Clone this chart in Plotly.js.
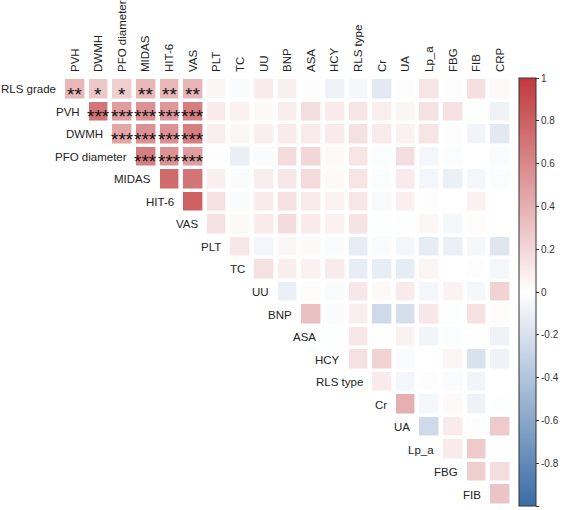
<!DOCTYPE html>
<html>
<head>
<meta charset="utf-8">
<script src="https://cdn.plot.ly/plotly-3.0.1.min.js"></script>
<style>
  html, body { margin: 0; padding: 0; background: #ffffff; }
  #chart { width: 567px; height: 510px; }
</style>
</head>
<body>
<div id="chart"></div>
<script>
// Variables in matrix order
const variables = ['RLS grade', 'PVH', 'DWMH', 'PFO diameter', 'MIDAS', 'HIT-6', 'VAS', 'PLT', 'TC', 'UU',
  'BNP', 'ASA', 'HCY', 'RLS type', 'Cr', 'UA', 'Lp_a', 'FBG', 'FIB', 'CRP'];

// Upper-triangle correlations: each row starts at the column right after its own variable
const corrRLSGrade   = [0.36, 0.28, 0.25, 0.36, 0.36, 0.37, 0.05, -0.03, 0.10, 0.08, 0.01, -0.08, -0.05, -0.15, 0.01, 0.13, 0.01, 0.16, 0.03];
const corrPVH        = [0.70, 0.50, 0.55, 0.52, 0.65, 0.10, 0.07, 0.03, 0.09, 0.17, 0.10, 0.13, 0.08, 0.05, 0.15, 0.15, -0.01, -0.08];
const corrDWMH       = [0.45, 0.55, 0.55, 0.65, 0.08, 0.04, 0.08, 0.10, 0.10, 0.10, 0.15, 0.10, 0.07, 0.13, 0.01, -0.07, -0.15];
const corrPFO        = [0.65, 0.55, 0.50, 0.01, -0.11, -0.03, 0.18, 0.20, 0.03, 0.13, -0.02, 0.17, -0.06, -0.02, 0.00, -0.03];
const corrMIDAS      = [0.75, 0.70, 0.08, -0.03, 0.09, 0.12, 0.18, 0.03, 0.13, -0.02, 0.10, -0.06, -0.10, -0.06, -0.02];
const corrHIT6       = [0.80, 0.15, -0.03, 0.10, 0.15, 0.10, 0.06, 0.12, -0.04, 0.08, 0.01, 0.00, 0.07, 0.00];
const corrVAS        = [0.15, 0.03, 0.10, 0.18, 0.10, 0.07, 0.14, -0.01, 0.00, 0.04, -0.05, 0.02, 0.00];
const corrPLT        = [0.12, -0.06, 0.04, 0.03, -0.03, -0.12, -0.03, -0.06, -0.13, -0.10, -0.05, -0.17];
const corrTC         = [0.15, 0.09, 0.07, 0.10, -0.12, -0.12, -0.13, 0.05, 0.00, 0.01, -0.05];
const corrUU         = [-0.10, 0.02, -0.03, 0.12, 0.03, 0.10, -0.06, 0.06, -0.05, 0.22];
const corrBNP        = [0.32, -0.03, 0.08, -0.25, -0.22, 0.12, -0.01, 0.15, 0.02];
const corrASA        = [-0.01, 0.12, 0.00, 0.07, -0.07, -0.02, 0.00, -0.08];
const corrHCY        = [0.15, 0.22, -0.03, 0.00, 0.05, -0.20, -0.08];
const corrRLSType    = [0.10, -0.06, 0.01, -0.03, -0.07, 0.00];
const corrCr         = [0.40, -0.05, 0.03, -0.08, -0.01];
const corrUA         = [-0.25, 0.10, 0.01, 0.27];
const corrLpa        = [0.10, 0.27, 0.00];
const corrFBG        = [0.25, 0.17];
const corrFIB        = [0.30];

// Significance marks, aligned with the start of each row
const sigRLSGrade = ['**', '*', '*', '**', '**', '**'];
const sigPVH      = ['***', '***', '***', '***', '***'];
const sigDWMH     = ['***', '***', '***', '***'];
const sigPFO      = ['***', '***', '***'];

const rowLabels = variables.slice(0, 19);
const colLabels = variables.slice(1);
const rowValues = [corrRLSGrade, corrPVH, corrDWMH, corrPFO, corrMIDAS, corrHIT6, corrVAS, corrPLT, corrTC,
  corrUU, corrBNP, corrASA, corrHCY, corrRLSType, corrCr, corrUA, corrLpa, corrFBG, corrFIB];
const rowSig = [sigRLSGrade, sigPVH, sigDWMH, sigPFO];

const z = rowValues.map((vals, i) => Array(i).fill(null).concat(vals));

const FONT = 'Arial, "Liberation Sans", sans-serif';

const trace = {
  type: 'heatmap',
  x: colLabels,
  y: rowLabels,
  z: z,
  zmin: -1,
  zmax: 1,
  xgap: 4.6,
  ygap: 3.5,
  colorscale: [[0, '#3b6ca6'], [0.5, '#ffffff'], [1, '#c0393c']],
  hoverinfo: 'skip',
  colorbar: {
    x: 1.016, xanchor: 'left', xpad: 0,
    y: 0.5, yanchor: 'middle', ypad: 0,
    len: 1, lenmode: 'fraction',
    thickness: 17,
    outlinewidth: 1, outlinecolor: '#333333',
    ticks: 'outside', ticklen: 3, tickcolor: '#333333',
    tickvals: [1, 0.8, 0.6, 0.4, 0.2, 0, -0.2, -0.4, -0.6, -0.8, -1],
    ticktext: ['1', '0.8', '0.6', '0.4', '0.2', '0', '-0.2', '-0.4', '-0.6', '-0.8', '-1'],
    tickfont: { family: FONT, size: 10, color: '#333333' }
  }
};

// Row names sit just left of the first cell of each row
const rowNameNotes = rowLabels.map((lab, i) => ({
  x: i - 0.5, y: i, xref: 'x', yref: 'y',
  text: lab, showarrow: false, xanchor: 'right', yanchor: 'middle',
  xshift: -5,
  font: { family: FONT, size: 11.5, color: '#222222' }
}));

// Significance stars centred on their cells
const starNotes = [];
rowSig.forEach((marks, i) => {
  marks.forEach((m, k) => {
    starNotes.push({
      x: i + k, y: i, xref: 'x', yref: 'y',
      text: m, showarrow: false, xanchor: 'center', yanchor: 'middle',
      yshift: -5,
      font: { family: FONT, size: 19, color: '#111111' }
    });
  });
});

const layout = {
  width: 567, height: 510,
  margin: { l: 63, r: 55, t: 78, b: 4 },
  paper_bgcolor: '#ffffff', plot_bgcolor: '#ffffff',
  font: { family: FONT, color: '#222222' },
  xaxis: {
    type: 'category', side: 'top', tickangle: -90,
    showgrid: false, zeroline: false, showline: false, ticks: '',
    ticklabelstandoff: 5,
    tickfont: { family: FONT, size: 11.5, color: '#222222' },
    range: [-0.5, 18.5]
  },
  yaxis: {
    type: 'category', autorange: false, range: [18.5, -0.5],
    showgrid: false, zeroline: false, showline: false, ticks: '',
    showticklabels: false
  },
  annotations: rowNameNotes.concat(starNotes),
  showlegend: false
};

Plotly.newPlot('chart', [trace], layout, { displayModeBar: false, staticPlot: true });
</script>
</body>
</html>
